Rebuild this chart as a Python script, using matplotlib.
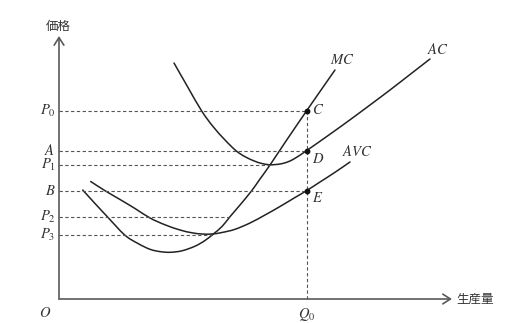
import matplotlib
matplotlib.use("Agg")
import matplotlib.pyplot as plt
from matplotlib.path import Path
from matplotlib.patches import PathPatch

plt.rcParams['mathtext.fontset'] = 'stix'
plt.rcParams['font.family'] = ['Noto Sans CJK JP', 'DejaVu Sans']

# ---- data (quantity, price) ----
mc_q = [23.7, 36, 48.3, 65.7, 79, 91, 101, 111, 123, 136, 146, 154.3, 163, 171, 181, 192.7, 201, 211, 227.7, 247.5, 261, 276]
mc_p = [109, 95.5, 82.3, 64, 55.5, 49.7, 47.4, 46.7, 48.2, 52.8, 58.5, 65, 72.5, 82.3, 94, 108.3, 120, 134, 159, 188, 207.5, 229]

avc_q = [31.7, 45.7, 61, 76, 91, 106, 121, 133, 143, 153, 163, 176, 191, 206, 221, 236, 247.5, 261, 276, 291]
avc_p = [117.5, 108.5, 99.5, 90.5, 81, 74.2, 69, 66.2, 65, 65, 66.5, 69.7, 76, 84, 92.5, 101.5, 108.3, 117, 126.7, 137]

ac_q = [115, 129, 142.7, 154, 166, 177, 186, 196, 203, 211, 221, 229, 236, 247.5, 271, 291, 311, 331, 351, 371]
ac_p = [236, 211.5, 188, 172.5, 159, 148.3, 142.3, 137.7, 135.5, 134.2, 135, 137.2, 140.7, 148.3, 164.8, 179.2, 194, 209, 224.5, 240]

level_labels = ['$P_0$', '$A$', '$P_1$', '$B$', '$P_2$', '$P_3$']
level_values = [188, 148.3, 134.2, 108.3, 82.3, 64.3]
level_ends = [247.5, 247.5, 211, 247.5, 170, 154]

q0 = 247.5
points = ['$C$', '$D$', '$E$']
point_p = [188, 148.3, 108.3]

curve_labels = ['$MC$', '$AC$', '$AVC$']
curve_label_pos = [(283, 239), (378.5, 249), (298, 147.3)]

x_max = 393
y_max = 263

# ---- figure ----
fig = plt.figure(figsize=(5.3, 3.23), dpi=100)
ax = fig.add_axes([0, 0, 1, 1])
ax.set_xlim(-59, 471)
ax.set_ylim(-24, 299)
ax.axis('off')

axis_col = '#5a5a5a'
curve_col = '#222222'
dash_col = '#555555'


def smooth_path(xs, ys):
    """Catmull-Rom through the read points, rendered as cubic Bezier segments."""
    pts = list(zip(xs, ys))
    verts = [pts[0]]
    codes = [Path.MOVETO]
    n = len(pts)
    for i in range(n - 1):
        p0 = pts[i - 1] if i > 0 else pts[i]
        p1 = pts[i]
        p2 = pts[i + 1]
        p3 = pts[i + 2] if i + 2 < n else pts[i + 1]
        c1 = (p1[0] + (p2[0] - p0[0]) / 6, p1[1] + (p2[1] - p0[1]) / 6)
        c2 = (p2[0] - (p3[0] - p1[0]) / 6, p2[1] - (p3[1] - p1[1]) / 6)
        verts += [c1, c2, p2]
        codes += [Path.CURVE4] * 3
    return Path(verts, codes)


# axes with arrows
ax.annotate('', xy=(x_max, 0), xytext=(0, 0),
            arrowprops=dict(arrowstyle='->,head_length=0.55,head_width=0.35', lw=1.2,
                            color=axis_col, shrinkA=0, shrinkB=0))
ax.annotate('', xy=(0, y_max), xytext=(0, 0),
            arrowprops=dict(arrowstyle='->,head_length=0.55,head_width=0.35', lw=1.2,
                            color=axis_col, shrinkA=0, shrinkB=0))

# dashed guide lines
for lab, v, e in zip(level_labels, level_values, level_ends):
    ax.plot([0, e], [v, v], ls=(0, (3, 2.2)), lw=0.8, color=dash_col)
    ax.text(-3.5, v, lab, ha='right', va='center', fontsize=10.5, color='#333333')
ax.plot([q0, q0], [0, point_p[0]], ls=(0, (3, 2.2)), lw=0.8, color=dash_col)

# curves
for xs, ys in [(mc_q, mc_p), (avc_q, avc_p), (ac_q, ac_p)]:
    ax.add_patch(PathPatch(smooth_path(xs, ys), facecolor='none',
                           edgecolor=curve_col, lw=1.1, capstyle='round'))

# points
ax.plot([q0] * len(point_p), point_p, 'o', color='#111111', ms=3.2)
for lab, v, dy in zip(points, point_p, [0.5, -8.5, -7.5]):
    ax.text(q0 + 5, v + dy, lab, ha='left', va='center', fontsize=10.5, color='#333333')

for lab, (x, y) in zip(curve_labels, curve_label_pos):
    ax.text(x, y, lab, ha='center', va='center', fontsize=10.5, color='#333333')

# axis labels
ax.text(-14, -14, '$O$', ha='center', va='center', fontsize=10.5, color='#333333')
ax.text(q0, -15.5, '$Q_0$', ha='center', va='center', fontsize=10.5, color='#333333')
ax.text(-1, 273, '価格', ha='center', va='center', fontsize=9, color='#333333')
ax.text(x_max + 4, 0, '生産量', ha='left', va='center', fontsize=9, color='#333333')

fig.savefig('out.png', dpi=100)
